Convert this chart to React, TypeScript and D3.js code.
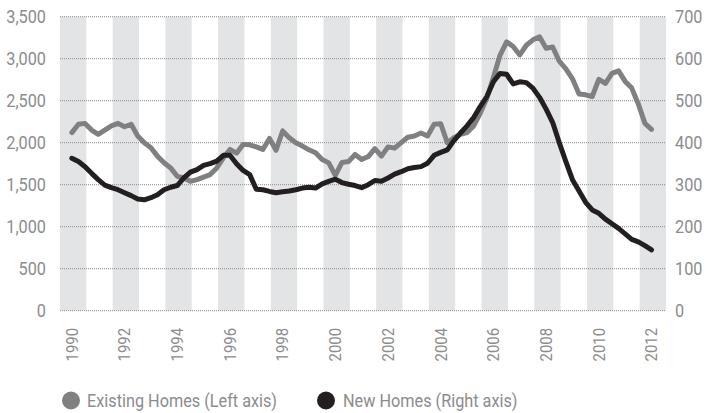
import React from "react";
import * as d3 from "d3";

const START_YEAR = 1990.45; // first quarterly observation (x position in fractional years)
const STEP = 0.25;

const existingHomes = [
  2120, 2220, 2230, 2150, 2100, 2150, 2200, 2230, 2190, 2220,
  2080, 2000, 1940, 1840, 1760, 1700, 1600, 1580, 1540, 1560,
  1590, 1620, 1700, 1820, 1920, 1875, 1980, 1975, 1950, 1920,
  2050, 1910, 2140, 2060, 2000, 1960, 1915, 1880, 1800, 1760,
  1610, 1765, 1775, 1860, 1800, 1835, 1930, 1840, 1950, 1935,
  2000, 2065, 2080, 2115, 2080, 2220, 2225, 2000, 2060, 2100,
  2120, 2200, 2350, 2530, 2780, 3040, 3200, 3145, 3045, 3160,
  3225, 3260, 3125, 3140, 2970, 2880, 2760, 2580, 2570, 2550,
  2755, 2705, 2825, 2855, 2730, 2650, 2460, 2230, 2160,
];

const newHomes = [
  363, 355, 343, 327, 312, 299, 293, 288, 281, 274,
  266, 264, 269, 276, 288, 294, 298, 316, 330, 336,
  346, 350, 356, 370, 370, 350, 334, 324, 289, 288,
  284, 281, 283, 285, 288, 292, 294, 292, 302, 308,
  313, 305, 301, 298, 293, 300, 310, 308, 316, 325,
  331, 338, 341, 343, 351, 370, 377, 383, 405, 423,
  440, 460, 486, 510, 545, 565, 563, 540, 545, 543,
  530, 508, 480, 448, 400, 355, 312, 285, 258, 240,
  232, 218, 207, 196, 183, 170, 164, 155, 145,
];

const yearLabels = [1990, 1992, 1994, 1996, 1998, 2000, 2002, 2004, 2006, 2008, 2010, 2012];
const leftTicks = [0, 500, 1000, 1500, 2000, 2500, 3000, 3500];
const rightTicks = [0, 100, 200, 300, 400, 500, 600, 700];
const legendItems = ["Existing Homes (Left axis)", "New Homes (Right axis)"];

const W = 705;
const H = 413;
const X0 = 60;
const X1 = 666;
const YTOP = 16.7;
const YBOT = 310.7;

const GREY_LINE = "#808082";
const BLACK_LINE = "#231f20";
const BAND = "#e3e4e6";
const TEXT = "#8c8c8e";
const FONT = "Roboto, 'Liberation Sans', sans-serif";
const SX = 0.93;

export default function App() {
  const x = d3.scaleLinear().domain([1990, 2013]).range([X0, X1]);
  const yL = d3.scaleLinear().domain([0, 3500]).range([YBOT, YTOP]);
  const yR = d3.scaleLinear().domain([0, 700]).range([YBOT, YTOP]);

  const lineL = d3
    .line<number>()
    .x((_, i) => x(START_YEAR + i * STEP))
    .y((d) => yL(d));
  const lineR = d3
    .line<number>()
    .x((_, i) => x(START_YEAR + i * STEP))
    .y((d) => yR(d));

  const fmt = d3.format(",");

  return (
    <svg
      width={W}
      height={H}
      style={{ position: "absolute", left: 0, top: 0, background: "#fff" }}
      fontFamily={FONT}
    >
      {/* bands */}
      {yearLabels.map((yr) => (
        <rect
          key={"b" + yr}
          x={x(yr)}
          y={YTOP}
          width={x(yr + 1) - x(yr)}
          height={YBOT - YTOP}
          fill={BAND}
        />
      ))}
      {/* grid */}
      {leftTicks.map((t) => (
        <line
          key={"g" + t}
          x1={X0}
          x2={X1}
          y1={yL(t)}
          y2={yL(t)}
          stroke="#8a8a8a"
          strokeWidth={1}
          strokeDasharray="1,1"
        />
      ))}
      {/* left axis labels */}
      {leftTicks.map((t) => (
        <text
          key={"l" + t}
          transform={`translate(46,${yL(t) + 6.3}) scale(${SX},1)`}
          textAnchor="end"
          fontSize={17.5}
          fill={TEXT}
        >
          {fmt(t)}
        </text>
      ))}
      {/* right axis labels */}
      {rightTicks.map((t) => (
        <text
          key={"r" + t}
          transform={`translate(675,${yR(t) + 6.3}) scale(${SX},1)`}
          textAnchor="start"
          fontSize={17.5}
          fill={TEXT}
        >
          {t}
        </text>
      ))}
      {/* x labels */}
      {yearLabels.map((yr) => (
        <text
          key={"x" + yr}
          transform={`translate(${x(yr + 0.5) + 4.5},328) rotate(-90) scale(${SX},1)`}
          textAnchor="end"
          fontSize={16}
          fill={TEXT}
        >
          {yr}
        </text>
      ))}
      {/* lines */}
      <path
        d={lineL(existingHomes) || ""}
        fill="none"
        stroke={GREY_LINE}
        strokeWidth={5}
        strokeLinejoin="round"
        strokeLinecap="round"
      />
      <path
        d={lineR(newHomes) || ""}
        fill="none"
        stroke={BLACK_LINE}
        strokeWidth={5}
        strokeLinejoin="round"
        strokeLinecap="round"
      />
      {/* legend */}
      <circle cx={71} cy={400.5} r={9} fill={GREY_LINE} />
      <text
        transform={`translate(87,407) scale(${SX},1)`}
        fontSize={17.5}
        fill={TEXT}
      >
        {legendItems[0]}
      </text>
      <circle cx={326} cy={400.5} r={9} fill={BLACK_LINE} />
      <text
        transform={`translate(343,407) scale(${SX},1)`}
        fontSize={17.5}
        fill={TEXT}
      >
        {legendItems[1]}
      </text>
    </svg>
  );
}
